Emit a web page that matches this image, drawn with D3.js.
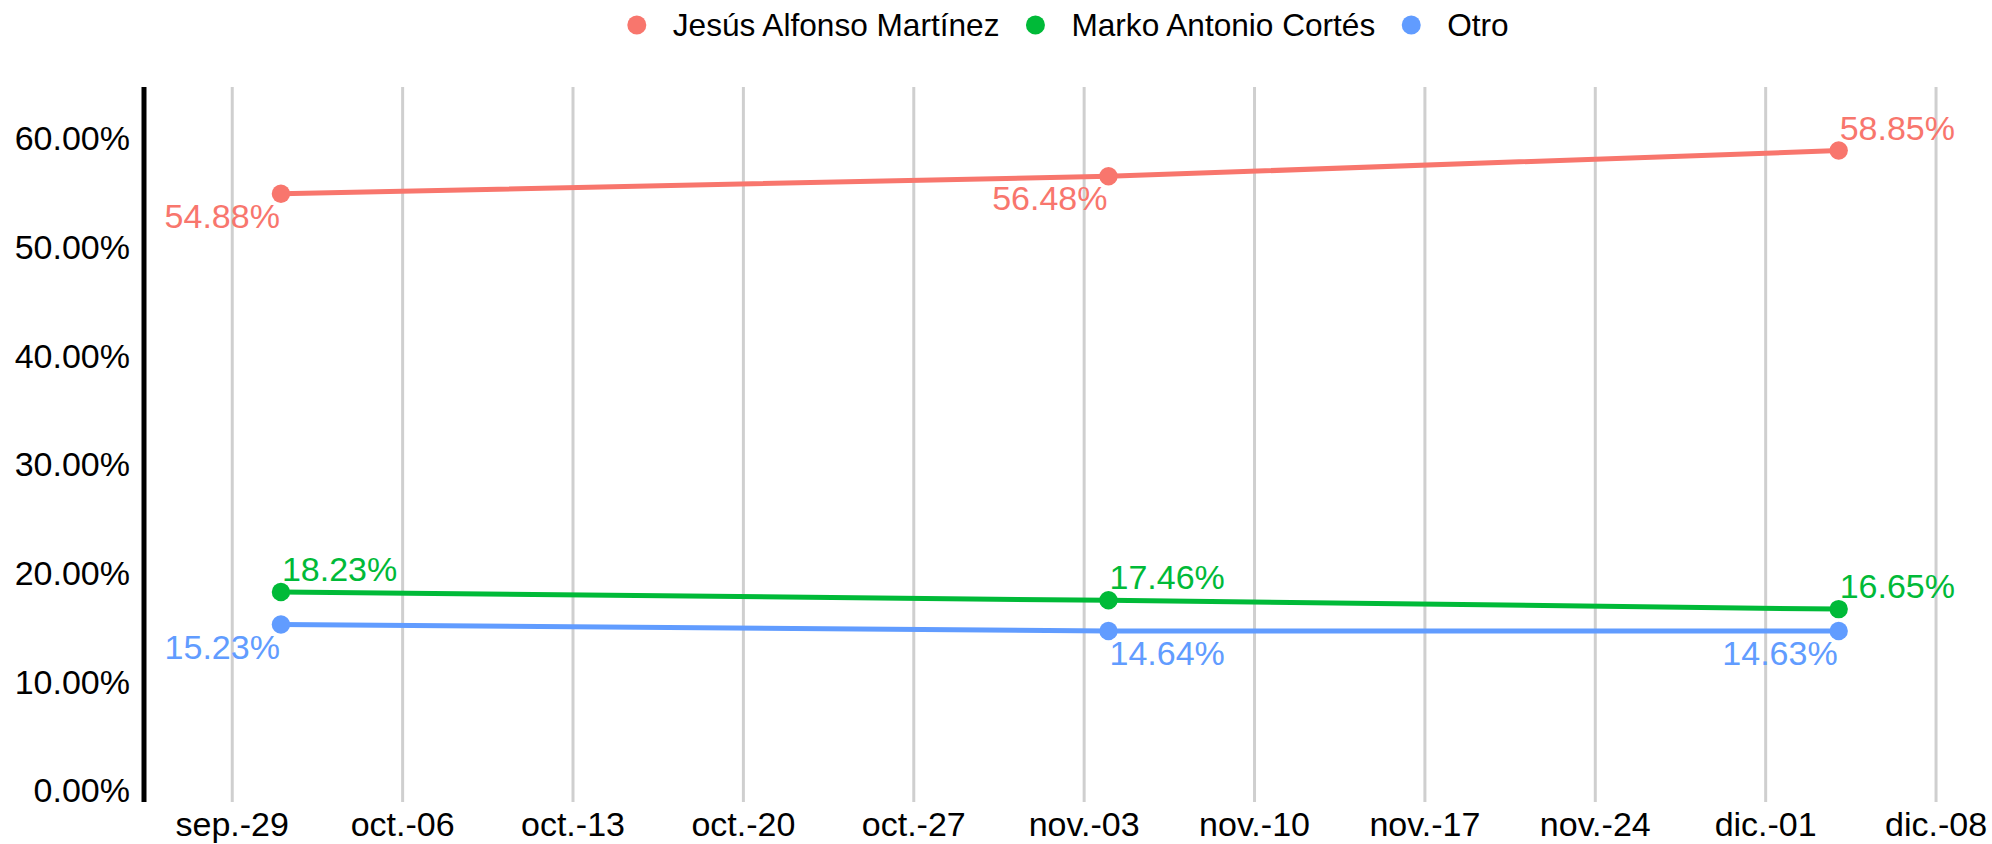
<!DOCTYPE html>
<html>
<head>
<meta charset="utf-8">
<script src="https://cdn.jsdelivr.net/npm/d3@7"></script>
<style>
  html, body { margin: 0; padding: 0; background: #ffffff; }
  svg { display: block; }
  text { font-family: "Liberation Sans", Arial, Helvetica, sans-serif; }
</style>
</head>
<body>
<svg id="chart" width="1992" height="844"></svg>
<script>
// ---------------- DATA ----------------
const dates = ["2024-10-01", "2024-11-04", "2024-12-04"];
const seriesNames = ["Jesús Alfonso Martínez", "Marko Antonio Cortés", "Otro"];
const jesusValues = [54.88, 56.48, 58.85];
const markoValues = [18.23, 17.46, 16.65];
const otroValues = [15.23, 14.64, 14.63];
const yTickValues = [0, 10, 20, 30, 40, 50, 60];
const monthLabels = ["ene.", "feb.", "mar.", "abr.", "may.", "jun.", "jul.", "ago.", "sep.", "oct.", "nov.", "dic."];

// ---------------- STYLE ----------------
const colors = ["#F8766D", "#00BA38", "#619CFF"];
const labelPlacement = [
  ["below-left", "below-left", "above-right"],
  ["above-right", "above-right", "above-right"],
  ["below-left", "below-right", "below-left"]
];

const W = 1992, H = 844;
const plotLeft = 144, plotTop = 87, plotBottom = 802;
const fontSize = "34px";

const parse = d3.timeParse("%Y-%m-%d");
const series = [jesusValues, markoValues, otroValues].map((vals, i) => ({
  name: seriesNames[i],
  color: colors[i],
  points: vals.map((v, j) => ({ date: parse(dates[j]), value: v, place: labelPlacement[i][j] }))
}));

const svg = d3.select("#chart");

// x scale: 24.34 px per day
const pxPerDay = 24.34;
const xStart = new Date(2024, 8, 25, 8, 0);
const xEnd = new Date(2024, 11, 11, 0, 0);
const spanDays = (xEnd - xStart) / 864e5;
const x = d3.scaleTime().domain([xStart, xEnd]).range([plotLeft - 1, plotLeft - 1 + spanDays * pxPerDay]);

const y = d3.scaleLinear().domain([-1.1, 64.7]).range([plotBottom, plotTop]);

const locale = d3.timeFormatLocale({
  dateTime: "%x, %X", date: "%d/%m/%Y", time: "%H:%M:%S",
  periods: ["AM", "PM"],
  days: ["domingo", "lunes", "martes", "miércoles", "jueves", "viernes", "sábado"],
  shortDays: ["dom", "lun", "mar", "mié", "jue", "vie", "sáb"],
  months: ["enero", "febrero", "marzo", "abril", "mayo", "junio", "julio", "agosto", "septiembre", "octubre", "noviembre", "diciembre"],
  shortMonths: monthLabels
});
const fmtX = locale.format("%b-%d");

// x gridlines + labels
const xTicks = d3.timeWeek.every(1).range(new Date(2024, 8, 29), new Date(2024, 11, 9));
const xg = svg.append("g").attr("class", "x-grid");
xg.selectAll("line").data(xTicks).join("line")
  .attr("x1", d => x(d)).attr("x2", d => x(d))
  .attr("y1", plotTop).attr("y2", plotBottom)
  .attr("stroke", "#cfcfcf").attr("stroke-width", 3);
xg.selectAll("text").data(xTicks).join("text")
  .attr("x", d => x(d)).attr("y", 836)
  .attr("text-anchor", "middle")
  .attr("font-size", fontSize).attr("fill", "#000")
  .text(d => fmtX(d));

// y axis line
svg.append("line")
  .attr("x1", plotLeft).attr("x2", plotLeft)
  .attr("y1", plotTop).attr("y2", plotBottom)
  .attr("stroke", "#000").attr("stroke-width", 5);

// y tick labels
svg.append("g").selectAll("text").data(yTickValues).join("text")
  .attr("x", 130).attr("y", d => y(d))
  .attr("dy", "0.36em")
  .attr("text-anchor", "end")
  .attr("font-size", fontSize).attr("fill", "#000")
  .text(d => d.toFixed(2) + "%");

// lines
const line = d3.line().x(d => x(d.date)).y(d => y(d.value));
svg.append("g").selectAll("path").data(series).join("path")
  .attr("d", d => line(d.points))
  .attr("fill", "none")
  .attr("stroke", d => d.color)
  .attr("stroke-width", 5)
  .attr("stroke-linejoin", "round");

// points
const pg = svg.append("g");
series.forEach(s => {
  pg.append("g").selectAll("circle").data(s.points).join("circle")
    .attr("cx", d => x(d.date)).attr("cy", d => y(d.value))
    .attr("r", 9.2).attr("fill", s.color);
});

// data labels
const lg = svg.append("g");
series.forEach(s => {
  lg.append("g").selectAll("text").data(s.points).join("text")
    .attr("x", d => x(d.date) + (d.place.endsWith("right") ? 1 : -1))
    .attr("y", d => y(d.value) + (d.place.startsWith("above") ? -11 : 34))
    .attr("text-anchor", d => d.place.endsWith("right") ? "start" : "end")
    .attr("font-size", fontSize)
    .attr("fill", s.color)
    .text(d => d.value.toFixed(2) + "%");
});

// legend
const legend = svg.append("g");
const items = series.map(s => {
  const g = legend.append("g");
  g.append("circle").attr("cx", 0).attr("cy", 25).attr("r", 9.5).attr("fill", s.color);
  const t = g.append("text").attr("x", 36).attr("y", 36)
    .attr("font-size", "31.6px").attr("fill", "#000").text(s.name);
  return { g, w: 36 + t.node().getComputedTextLength() };
});
const gap = 36;
let totalW = 9.5;
items.forEach((it, i) => { totalW += it.w + (i < items.length - 1 ? gap : 0); });
let cx = (plotLeft + W) / 2 - totalW / 2 + 9.5;
items.forEach(it => {
  it.g.attr("transform", `translate(${cx},0)`);
  cx += it.w + gap;
});
</script>
</body>
</html>
